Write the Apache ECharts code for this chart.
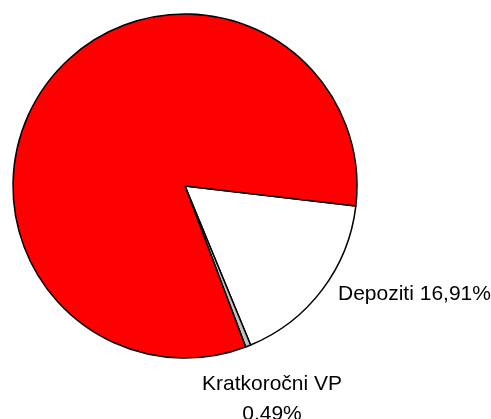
<!DOCTYPE html>
<html>
<head>
<meta charset="utf-8">
<script src="https://cdn.jsdelivr.net/npm/echarts@6/dist/echarts.min.js"></script>
<style>
  html, body { margin: 0; padding: 0; background: #fff; }
  #pie1 { width: 491px; height: 419px; }
</style>
</head>
<body>
<div id="pie1"></div>
<script>
// podaci
var names = ['Depoziti', 'Kratkoročni VP', 'Ostalo'];
var values = [16.91, 0.49, 82.60];
var colors = ['#ffffff', '#c0c0c0', '#ff0000'];
var showLabel = [true, true, false];

var chart = echarts.init(document.getElementById('pie1'));

var pieData = names.map(function (n, i) {
  return {
    name: n,
    value: values[i],
    itemStyle: { color: colors[i] },
    label: { show: showLabel[i] }
  };
});

function fmt(p) {
  var v = p.value.toFixed(2).replace('.', ',');
  if (p.dataIndex === 1) return p.name + '\n' + v + '%';
  return p.name + ' ' + v + '%';
}

chart.setOption({
  animation: false,
  series: [
    {
      type: 'pie',
      center: [185, 186],
      radius: 172,
      startAngle: -6.7,
      clockwise: true,
      avoidLabelOverlap: false,
      itemStyle: { borderColor: '#000', borderWidth: 1.5 },
      emphasis: { disabled: true },
      labelLine: { show: false },
      label: {
        position: 'outside',
        formatter: fmt,
        color: '#000',
        fontFamily: 'Liberation Sans, Arial, sans-serif',
        fontSize: 21,
        lineHeight: 30
      },
      labelLayout: function (params) {
        if (params.dataIndex === 0) {
          return { x: 338, y: 294, align: 'left', verticalAlign: 'middle' };
        }
        if (params.dataIndex === 1) {
          return { x: 272, y: 399, align: 'center', verticalAlign: 'middle' };
        }
        return {};
      },
      data: pieData
    }
  ]
});
</script>
</body>
</html>
